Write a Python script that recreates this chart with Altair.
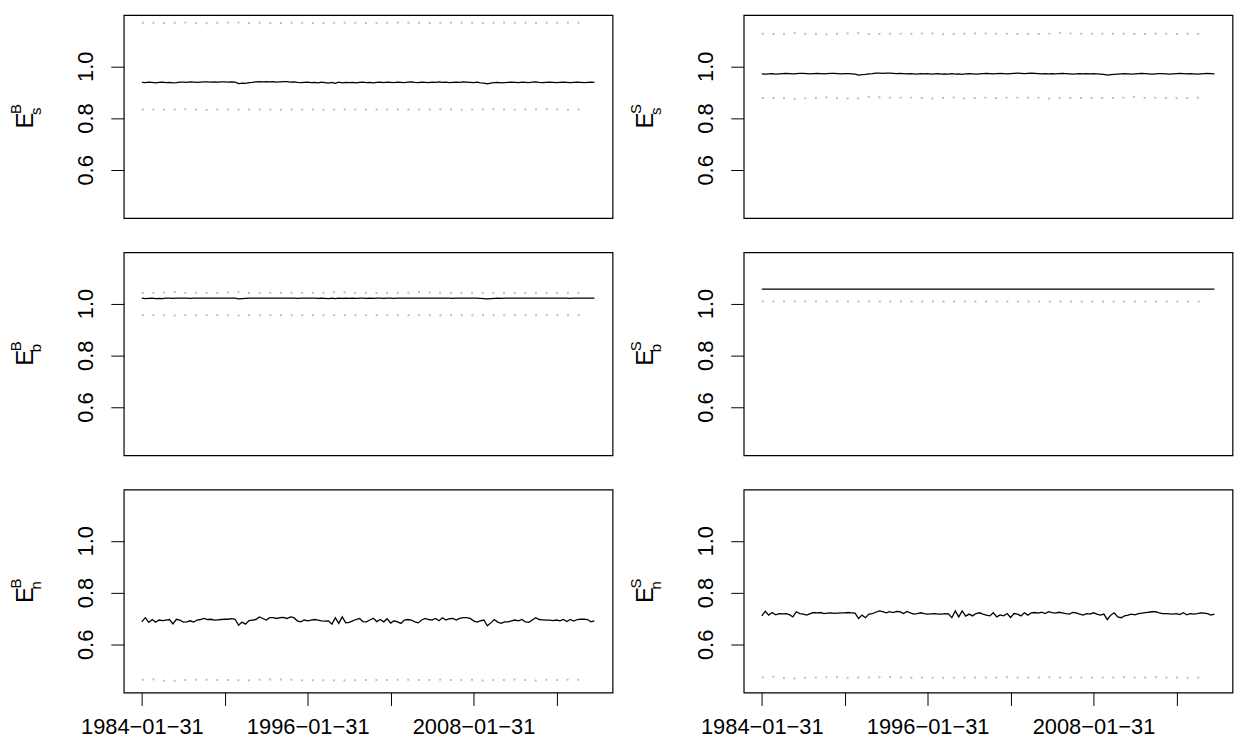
import altair as alt
import pandas as pd

FONT = "Liberation Sans"

# x positions: quarterly observations, index 0 = 1984-01-31
tick_idx = [0, 24, 48, 72, 96, 120]
tick_labels = ["1984\u221201\u221231", "1990\u221201\u221231", "1996\u221201\u221231",
               "2002\u221201\u221231", "2008\u221201\u221231", "2014\u221201\u221231"]
tick_shown = [True, False, True, False, True, False]

# panel titles: E^sup_sub
title_sup = ["B", "S", "B", "S", "B", "S"]
title_sub = ["s", "s", "b", "b", "n", "n"]

# ---- solid lines (quarterly) ----
tl_line = [
    0.938, 0.937, 0.939, 0.938, 0.936, 0.938, 0.939, 0.937, 0.938, 0.936, 0.937, 0.939,
    0.939, 0.938, 0.940, 0.939, 0.938, 0.939, 0.940, 0.940, 0.939, 0.940, 0.939, 0.940,
    0.940, 0.939, 0.940, 0.939, 0.933, 0.935, 0.934, 0.937, 0.938, 0.940, 0.941, 0.940,
    0.941, 0.940, 0.941, 0.939, 0.940, 0.941, 0.941, 0.939, 0.940, 0.938, 0.937, 0.938,
    0.939, 0.937, 0.938, 0.936, 0.939, 0.937, 0.935, 0.938, 0.934, 0.939, 0.936, 0.938,
    0.937, 0.938, 0.936, 0.938, 0.939, 0.937, 0.938, 0.936, 0.938, 0.939, 0.937, 0.939,
    0.938, 0.937, 0.939, 0.938, 0.937, 0.939, 0.940, 0.938, 0.937, 0.939, 0.938, 0.937,
    0.939, 0.938, 0.940, 0.938, 0.939, 0.937, 0.938, 0.939, 0.938, 0.940, 0.939, 0.938,
    0.937, 0.939, 0.936, 0.935, 0.932, 0.935, 0.937, 0.938, 0.936, 0.937, 0.938, 0.939,
    0.938, 0.937, 0.939, 0.938, 0.937, 0.939, 0.940, 0.938, 0.937, 0.938, 0.939, 0.938,
    0.937, 0.938, 0.939, 0.938, 0.937, 0.938, 0.939, 0.938, 0.937, 0.938, 0.939, 0.938,
]
tr_line = [
    0.971, 0.970, 0.971, 0.972, 0.970, 0.971, 0.972, 0.973, 0.972, 0.971, 0.972, 0.973,
    0.973, 0.972, 0.971, 0.972, 0.973, 0.972, 0.971, 0.972, 0.973, 0.973, 0.972, 0.971,
    0.972, 0.972, 0.971, 0.970, 0.966, 0.968, 0.969, 0.971, 0.972, 0.974, 0.974, 0.973,
    0.974, 0.974, 0.973, 0.972, 0.973, 0.972, 0.971, 0.972, 0.971, 0.970, 0.972, 0.971,
    0.972, 0.970, 0.971, 0.972, 0.970, 0.971, 0.970, 0.972, 0.970, 0.971, 0.969, 0.971,
    0.972, 0.971, 0.970, 0.971, 0.972, 0.973, 0.972, 0.971, 0.972, 0.973, 0.972, 0.971,
    0.972, 0.973, 0.974, 0.973, 0.972, 0.973, 0.974, 0.973, 0.972, 0.971, 0.972, 0.971,
    0.972, 0.971, 0.972, 0.973, 0.972, 0.971, 0.970, 0.971, 0.972, 0.971, 0.972, 0.971,
    0.972, 0.971, 0.970, 0.969, 0.966, 0.968, 0.969, 0.970, 0.971, 0.972, 0.971, 0.970,
    0.971, 0.972, 0.973, 0.972, 0.971, 0.970, 0.971, 0.972, 0.972, 0.971, 0.970, 0.971,
    0.972, 0.973, 0.972, 0.971, 0.972, 0.971, 0.970, 0.971, 0.972, 0.973, 0.972, 0.971,
]
ml_line = [
    1.021, 1.019, 1.020, 1.021, 1.019, 1.020, 1.019, 1.021, 1.021, 1.020, 1.021, 1.021,
    1.021, 1.021, 1.020, 1.021, 1.021, 1.021, 1.021, 1.021, 1.021, 1.021, 1.021, 1.021,
    1.021, 1.021, 1.021, 1.021, 1.018, 1.019, 1.020, 1.021, 1.021, 1.021, 1.021, 1.021,
    1.021, 1.021, 1.021, 1.021, 1.021, 1.021, 1.021, 1.021, 1.021, 1.020, 1.021, 1.021,
    1.021, 1.021, 1.021, 1.020, 1.021, 1.020, 1.019, 1.021, 1.019, 1.021, 1.020, 1.021,
    1.020, 1.021, 1.020, 1.021, 1.021, 1.020, 1.021, 1.020, 1.021, 1.021, 1.020, 1.021,
    1.021, 1.020, 1.021, 1.021, 1.021, 1.021, 1.021, 1.021, 1.021, 1.021, 1.021, 1.021,
    1.021, 1.021, 1.021, 1.021, 1.021, 1.021, 1.020, 1.021, 1.021, 1.021, 1.021, 1.021,
    1.021, 1.021, 1.020, 1.019, 1.018, 1.019, 1.020, 1.021, 1.020, 1.021, 1.021, 1.021,
    1.021, 1.021, 1.021, 1.021, 1.021, 1.021, 1.021, 1.021, 1.021, 1.021, 1.021, 1.021,
    1.021, 1.021, 1.021, 1.021, 1.020, 1.021, 1.021, 1.021, 1.021, 1.021, 1.021, 1.021,
]
mr_line = [
    1.056, 1.056, 1.056, 1.056, 1.056, 1.056, 1.056, 1.056, 1.056, 1.056, 1.056, 1.056,
    1.056, 1.056, 1.056, 1.056, 1.056, 1.056, 1.056, 1.056, 1.056, 1.056, 1.056, 1.056,
    1.056, 1.056, 1.056, 1.056, 1.056, 1.056, 1.056, 1.056, 1.056, 1.056, 1.056, 1.056,
    1.056, 1.056, 1.056, 1.056, 1.056, 1.056, 1.056, 1.056, 1.056, 1.056, 1.056, 1.056,
    1.056, 1.056, 1.056, 1.056, 1.056, 1.056, 1.056, 1.056, 1.056, 1.056, 1.056, 1.056,
    1.056, 1.056, 1.056, 1.056, 1.056, 1.056, 1.056, 1.056, 1.056, 1.056, 1.056, 1.056,
    1.056, 1.056, 1.056, 1.056, 1.056, 1.056, 1.056, 1.056, 1.056, 1.056, 1.056, 1.056,
    1.056, 1.056, 1.056, 1.056, 1.056, 1.056, 1.056, 1.056, 1.056, 1.056, 1.056, 1.056,
    1.056, 1.056, 1.056, 1.056, 1.056, 1.056, 1.056, 1.056, 1.056, 1.056, 1.056, 1.056,
    1.056, 1.056, 1.056, 1.056, 1.056, 1.056, 1.056, 1.056, 1.056, 1.056, 1.056, 1.056,
    1.056, 1.056, 1.056, 1.056, 1.056, 1.056, 1.056, 1.056, 1.056, 1.056, 1.056, 1.056,
]
bl_line = [
    0.687, 0.703, 0.685, 0.696, 0.686, 0.694, 0.692, 0.694, 0.696, 0.679, 0.697, 0.694,
    0.686, 0.687, 0.691, 0.686, 0.694, 0.696, 0.700, 0.696, 0.697, 0.694, 0.695, 0.696,
    0.697, 0.697, 0.699, 0.697, 0.674, 0.686, 0.678, 0.692, 0.694, 0.696, 0.706, 0.700,
    0.694, 0.703, 0.703, 0.700, 0.703, 0.704, 0.700, 0.706, 0.703, 0.691, 0.687, 0.694,
    0.691, 0.694, 0.696, 0.694, 0.691, 0.690, 0.691, 0.678, 0.703, 0.681, 0.706, 0.683,
    0.685, 0.691, 0.696, 0.700, 0.688, 0.687, 0.694, 0.701, 0.688, 0.696, 0.687, 0.699,
    0.682, 0.691, 0.687, 0.681, 0.694, 0.696, 0.694, 0.687, 0.683, 0.694, 0.700, 0.696,
    0.694, 0.700, 0.691, 0.703, 0.694, 0.699, 0.700, 0.694, 0.700, 0.703, 0.703, 0.700,
    0.691, 0.686, 0.691, 0.694, 0.672, 0.683, 0.696, 0.686, 0.681, 0.687, 0.687, 0.691,
    0.694, 0.691, 0.696, 0.687, 0.685, 0.694, 0.703, 0.696, 0.695, 0.694, 0.694, 0.692,
    0.694, 0.691, 0.696, 0.688, 0.696, 0.690, 0.696, 0.697, 0.697, 0.696, 0.687, 0.691,
]
br_line = [
    0.710, 0.728, 0.713, 0.723, 0.714, 0.719, 0.718, 0.719, 0.715, 0.706, 0.726, 0.719,
    0.717, 0.713, 0.719, 0.723, 0.722, 0.723, 0.719, 0.721, 0.722, 0.720, 0.721, 0.722,
    0.722, 0.723, 0.722, 0.721, 0.700, 0.713, 0.703, 0.717, 0.719, 0.724, 0.729, 0.726,
    0.722, 0.726, 0.723, 0.727, 0.726, 0.719, 0.727, 0.722, 0.717, 0.719, 0.722, 0.719,
    0.717, 0.718, 0.719, 0.717, 0.717, 0.719, 0.718, 0.703, 0.729, 0.706, 0.729, 0.709,
    0.717, 0.710, 0.719, 0.722, 0.717, 0.713, 0.710, 0.722, 0.706, 0.714, 0.710, 0.719,
    0.704, 0.719, 0.717, 0.710, 0.722, 0.713, 0.722, 0.723, 0.721, 0.724, 0.719, 0.726,
    0.723, 0.721, 0.724, 0.722, 0.719, 0.717, 0.723, 0.722, 0.717, 0.713, 0.719, 0.717,
    0.722, 0.717, 0.713, 0.717, 0.696, 0.713, 0.722, 0.706, 0.703, 0.710, 0.713, 0.717,
    0.714, 0.719, 0.721, 0.723, 0.724, 0.726, 0.726, 0.722, 0.719, 0.719, 0.718, 0.717,
    0.719, 0.715, 0.722, 0.714, 0.719, 0.717, 0.719, 0.722, 0.721, 0.719, 0.713, 0.717,
]

# ---- dotted bands (every third quarter) ----
tl_upper = [1.168, 1.168, 1.167, 1.168, 1.169, 1.168, 1.166, 1.168, 1.168, 1.170, 1.167, 1.168,
            1.168, 1.167, 1.168, 1.169, 1.168, 1.167, 1.168, 1.168, 1.169, 1.168, 1.167, 1.168,
            1.168, 1.169, 1.168, 1.168, 1.167, 1.168, 1.169, 1.168, 1.168, 1.167, 1.168, 1.169,
            1.168, 1.168, 1.167, 1.168, 1.168, 1.169, 1.168, 1.167]
tl_lower = [0.833, 0.833, 0.832, 0.833, 0.834, 0.833, 0.831, 0.833, 0.834, 0.832, 0.833, 0.834,
            0.833, 0.832, 0.833, 0.834, 0.833, 0.833, 0.832, 0.833, 0.834, 0.833, 0.832, 0.833,
            0.833, 0.834, 0.832, 0.833, 0.833, 0.834, 0.833, 0.832, 0.833, 0.833, 0.834, 0.833,
            0.832, 0.833, 0.833, 0.834, 0.833, 0.832, 0.833, 0.833]
tr_upper = [1.126, 1.125, 1.125, 1.129, 1.126, 1.126, 1.122, 1.126, 1.126, 1.130, 1.125, 1.125,
            1.125, 1.126, 1.126, 1.126, 1.127, 1.127, 1.122, 1.126, 1.126, 1.127, 1.126, 1.126,
            1.126, 1.124, 1.125, 1.125, 1.126, 1.129, 1.126, 1.126, 1.126, 1.126, 1.126, 1.126,
            1.125, 1.125, 1.126, 1.126, 1.125, 1.126, 1.125, 1.124]
tr_lower = [0.878, 0.878, 0.878, 0.873, 0.877, 0.877, 0.881, 0.877, 0.876, 0.874, 0.881, 0.881,
            0.879, 0.879, 0.879, 0.879, 0.876, 0.876, 0.881, 0.878, 0.874, 0.879, 0.878, 0.878,
            0.879, 0.879, 0.879, 0.878, 0.874, 0.878, 0.878, 0.878, 0.878, 0.878, 0.878, 0.879,
            0.881, 0.878, 0.879, 0.878, 0.877, 0.878, 0.879, 0.878]
ml_upper = [1.041, 1.042, 1.042, 1.045, 1.042, 1.042, 1.041, 1.042, 1.042, 1.045, 1.041, 1.041,
            1.041, 1.042, 1.042, 1.042, 1.042, 1.042, 1.042, 1.045, 1.042, 1.042, 1.041, 1.041,
            1.042, 1.042, 1.042, 1.045, 1.042, 1.042, 1.042, 1.042, 1.042, 1.042, 1.042, 1.042,
            1.042, 1.042, 1.042, 1.042, 1.042, 1.042, 1.042, 1.041]
ml_lower = [0.955, 0.955, 0.955, 0.954, 0.955, 0.955, 0.955, 0.955, 0.955, 0.954, 0.955, 0.955,
            0.955, 0.955, 0.955, 0.955, 0.955, 0.955, 0.955, 0.955, 0.955, 0.955, 0.955, 0.955,
            0.955, 0.955, 0.955, 0.955, 0.955, 0.955, 0.955, 0.955, 0.955, 0.955, 0.955, 0.955,
            0.955, 0.955, 0.955, 0.955, 0.955, 0.955, 0.955, 0.955]
mr_lower = [1.008, 1.008, 1.008, 1.008, 1.008, 1.008, 1.008, 1.008, 1.008, 1.008, 1.008, 1.008,
            1.008, 1.008, 1.008, 1.008, 1.008, 1.008, 1.008, 1.008, 1.008, 1.008, 1.008, 1.008,
            1.008, 1.008, 1.008, 1.008, 1.008, 1.008, 1.008, 1.008, 1.008, 1.008, 1.008, 1.008,
            1.008, 1.008, 1.008, 1.008, 1.008, 1.008, 1.008, 1.008]
bl_lower = [0.463, 0.465, 0.460, 0.459, 0.462, 0.463, 0.464, 0.462, 0.462, 0.462, 0.460, 0.463,
            0.464, 0.465, 0.464, 0.462, 0.460, 0.463, 0.460, 0.462, 0.460, 0.462, 0.462, 0.463,
            0.462, 0.464, 0.463, 0.462, 0.463, 0.464, 0.462, 0.463, 0.463, 0.460, 0.462, 0.462,
            0.464, 0.462, 0.460, 0.463, 0.462, 0.463, 0.463, 0.463]
br_lower = [0.472, 0.476, 0.470, 0.468, 0.471, 0.472, 0.473, 0.474, 0.471, 0.472, 0.472, 0.473,
            0.474, 0.473, 0.471, 0.471, 0.472, 0.470, 0.471, 0.471, 0.472, 0.472, 0.473, 0.472,
            0.473, 0.472, 0.472, 0.472, 0.473, 0.471, 0.472, 0.472, 0.471, 0.472, 0.472, 0.473,
            0.472, 0.472, 0.473, 0.472, 0.472, 0.471, 0.472, 0.472]

lines = [tl_line, tr_line, ml_line, mr_line, bl_line, br_line]
bands = [[tl_upper, tl_lower], [tr_upper, tr_lower], [ml_upper, ml_lower],
         [mr_lower], [bl_lower], [br_lower]]

parts = [f"datum.value == {i} ? '{lab}'" for i, lab, s in zip(tick_idx, tick_labels, tick_shown) if s]
label_expr = " : ".join(parts) + " : ''"

W, H = 492, 204.3


def panel(k, show_x):
    vals = lines[k]
    line_df = pd.DataFrame({"i": list(range(len(vals))), "v": vals})
    rows = []
    for b, bv in enumerate(bands[k]):
        for j, v in enumerate(bv):
            rows.append({"i": j * 3, "v": v, "b": b})
    band_df = pd.DataFrame(rows)

    xs = alt.Scale(domain=[-5.24, 136.24], nice=False, zero=False)
    ys = alt.Scale(domain=[0.414, 1.198], nice=False, zero=False)
    if show_x:
        xax = alt.Axis(values=tick_idx, labelExpr=label_expr, title=None, grid=False,
                       domain=False, tickSize=13, tickColor="black", tickWidth=1,
                       labelFontSize=22, labelPadding=28, labelBaseline="alphabetic",
                       labelColor="black", labelFont=FONT, labelOverlap=False,
                       labelFlush=False)
    else:
        xax = None
    yax = alt.Axis(values=[0.6, 0.8, 1.0], format=".1f", title=None, grid=False,
                   domain=False, tickSize=13, tickColor="black", tickWidth=1,
                   labelAngle=270, labelAlign="center", labelBaseline="alphabetic",
                   labelPadding=18, labelFontSize=22, labelColor="black", labelFont=FONT)
    x = alt.X("i:Q", scale=xs, axis=xax)
    y = alt.Y("v:Q", scale=ys, axis=yax)

    band = alt.Chart(band_df).mark_line(
        color="#bebebe", strokeWidth=2, strokeDash=[2, 8.7]
    ).encode(x=x, y=y, detail="b:N")
    line = alt.Chart(line_df).mark_line(color="black", strokeWidth=1.3).encode(x=x, y=y)

    e_txt = alt.Chart(pd.DataFrame({"t": ["E"]})).mark_text(
        angle=270, align="left", baseline="alphabetic", fontSize=24, font=FONT, color="black"
    ).encode(text="t:N", x=alt.value(-91.2), y=alt.value(114.2))
    sup_txt = alt.Chart(pd.DataFrame({"t": [title_sup[k]]})).mark_text(
        angle=270, align="left", baseline="alphabetic", fontSize=15, font=FONT, color="black"
    ).encode(text="t:N", x=alt.value(-103.5), y=alt.value(99.5))
    sub_txt = alt.Chart(pd.DataFrame({"t": [title_sub[k]]})).mark_text(
        angle=270, align="left", baseline="alphabetic", fontSize=15, font=FONT, color="black"
    ).encode(text="t:N", x=alt.value(-83.5), y=alt.value(100.5))

    return alt.layer(band, line, e_txt, sup_txt, sub_txt).properties(width=W, height=H)


panels = [panel(k, k >= 4) for k in range(6)]

chart = alt.concat(
    *panels, columns=2, spacing={"row": 33.8, "column": 132}, bounds="flush"
).properties(
    autosize=alt.AutoSizeParams(type="none", contains="content"),
    padding={"left": 116.5, "top": 4.7, "right": 1118.5, "bottom": 726.3},
    background="white",
).configure_view(stroke="black", strokeWidth=1.2)

chart.save("out.html", embed_options={"renderer": "svg", "actions": False})
